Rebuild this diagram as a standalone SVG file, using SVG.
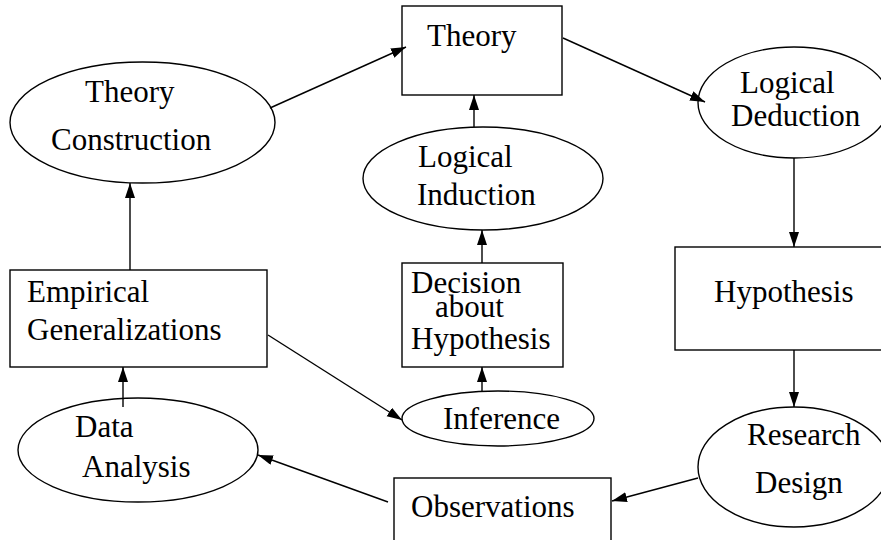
<svg xmlns="http://www.w3.org/2000/svg" width="881" height="540" viewBox="0 0 881 540">
<defs>
<marker id="ah" markerUnits="userSpaceOnUse" markerWidth="16" markerHeight="12" refX="15" refY="5" orient="auto">
<path d="M0,0 L15,5 L0,10 z" fill="#000"/>
</marker>
<style>
.n{fill:#fff;stroke:#000;stroke-width:1.4}
.t{font-family:"Liberation Serif","Times New Roman",serif;font-size:31px;fill:#000}
.c line{stroke:#000;stroke-width:1.4;marker-end:url(#ah)}
</style>
</defs>
<rect width="881" height="540" fill="#fff"/>
<g id="theory">
<rect class="n" x="402" y="6" width="160" height="89"/>
<text class="t" x="427" y="46">Theory</text>
</g>
<g id="theory-construction">
<ellipse class="n" cx="142.5" cy="122.5" rx="132.5" ry="60.5"/>
<text class="t" x="85" y="102">Theory</text>
<text class="t" x="51" y="150">Construction</text>
</g>
<g id="logical-induction">
<ellipse class="n" cx="483" cy="178.5" rx="120" ry="51.5"/>
<text class="t" x="418" y="167">Logical</text>
<text class="t" x="417" y="205">Induction</text>
</g>
<g id="logical-deduction">
<ellipse class="n" cx="794" cy="102.5" rx="96" ry="55.5"/>
<text class="t" x="740" y="93">Logical</text>
<text class="t" x="731" y="126">Deduction</text>
</g>
<g id="empirical-generalizations">
<rect class="n" x="10" y="270" width="257" height="97"/>
<text class="t" x="27" y="302">Empirical</text>
<text class="t" x="27" y="340">Generalizations</text>
</g>
<g id="decision">
<rect class="n" x="402" y="263" width="161" height="104"/>
<text class="t" x="411" y="293">Decision</text>
<text class="t" x="435" y="317">about</text>
<text class="t" x="411" y="349">Hypothesis</text>
</g>
<g id="hypothesis">
<rect class="n" x="675" y="247" width="230" height="103"/>
<text class="t" x="714" y="302">Hypothesis</text>
</g>
<g id="inference">
<ellipse class="n" cx="498" cy="418.5" rx="96" ry="27.5"/>
<text class="t" x="443" y="429">Inference</text>
</g>
<g id="data-analysis">
<ellipse class="n" cx="138" cy="450" rx="120" ry="52"/>
<text class="t" x="75" y="437">Data</text>
<text class="t" x="82" y="477">Analysis</text>
</g>
<g id="research-design">
<ellipse class="n" cx="794" cy="467" rx="96" ry="60"/>
<text class="t" x="747" y="445">Research</text>
<text class="t" x="755" y="493">Design</text>
</g>
<g id="observations">
<rect class="n" x="394" y="478" width="217" height="80"/>
<text class="t" x="411" y="517">Observations</text>
</g>
<g id="connectors" class="c">
<line x1="270" y1="108" x2="406" y2="47"/>
<line x1="563" y1="38" x2="705" y2="102"/>
<line x1="474" y1="127" x2="474" y2="95"/>
<line x1="482" y1="263" x2="482" y2="230"/>
<line x1="482" y1="391" x2="482" y2="367"/>
<line x1="794" y1="158" x2="794" y2="247"/>
<line x1="794" y1="350" x2="794" y2="407"/>
<line x1="698" y1="478" x2="612" y2="501"/>
<line x1="388" y1="502" x2="258" y2="455"/>
<line x1="123" y1="407" x2="123" y2="367"/>
<line x1="130" y1="270" x2="130" y2="183"/>
<line x1="268" y1="335" x2="402" y2="420"/>
</g>
</svg>
